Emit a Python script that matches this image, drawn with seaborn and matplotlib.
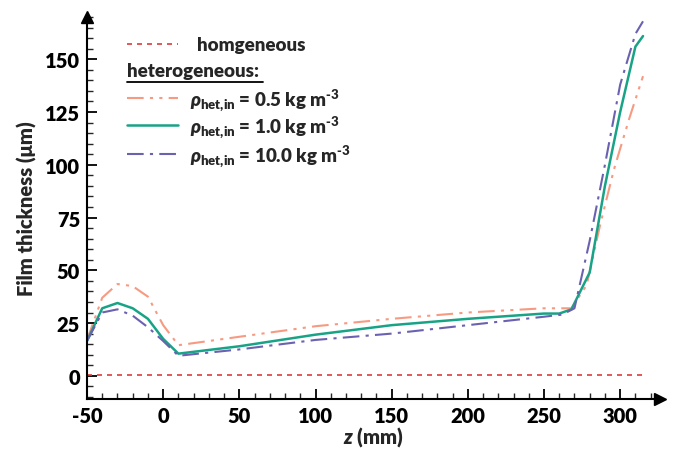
import numpy as np
import pandas as pd
import matplotlib
matplotlib.use("Agg")
import matplotlib.pyplot as plt
from matplotlib.ticker import MultipleLocator
import seaborn as sns

# ---------------- data ----------------
z_hom = [-50, 315]
t_hom = [0.5, 0.5]

z_05 = [-50, -45, -40, -30, -20, -10, 0, 10, 50, 100, 150, 200, 250, 268, 278, 287, 296, 306, 315]
t_05 = [17, 27, 37, 43.5, 42.5, 37.5, 24, 14.5, 18.5, 23.5, 27, 30, 32, 32, 43, 72, 98, 122, 142]

z_10 = [-50, -40, -30, -20, -10, 0, 10, 50, 100, 150, 200, 250, 260, 268, 280, 290, 300, 310, 315]
t_10 = [16.5, 32, 34.5, 32, 27, 17.5, 10.5, 14, 19.5, 24, 27, 29.5, 29.5, 31.5, 49, 90, 125, 156, 161]

z_100 = [-50, -40, -30, -20, -10, 0, 10, 50, 100, 150, 200, 250, 262, 270, 280, 290, 300, 310, 315]
t_100 = [16.5, 30, 31.5, 28.5, 23, 16.5, 9.5, 12.5, 17, 20, 24, 28, 29, 32, 64, 100, 138, 162, 168]

labels = ["homgeneous",
          r"$\rho_{\mathbf{het{,}in}}$ = 0.5 kg m$^{\mathbf{‐3}}$",
          r"$\rho_{\mathbf{het{,}in}}$ = 1.0 kg m$^{\mathbf{‐3}}$",
          r"$\rho_{\mathbf{het{,}in}}$ = 10.0 kg m$^{\mathbf{‐3}}$"]
x_ticks = [-50, 0, 50, 100, 150, 200, 250, 300]
y_ticks = [0, 25, 50, 75, 100, 125, 150]

# ---------------- style ----------------
sns.set_style("white")
plt.rcParams['font.family'] = ['Lato', 'DejaVu Sans']
plt.rcParams['font.weight'] = 'heavy'
plt.rcParams['axes.unicode_minus'] = False
plt.rcParams['mathtext.fontset'] = 'custom'
plt.rcParams['mathtext.rm'] = 'Lato:heavy'
plt.rcParams['mathtext.bf'] = 'Lato:heavy'
plt.rcParams['mathtext.it'] = 'Lato:heavy:italic'

FW = 'heavy'
c_hom = "#e03a3a"
c_05 = "#f79a82"
c_10 = "#19a386"
c_100 = "#6a62b0"

fig = plt.figure(figsize=(6.76, 4.52), dpi=100)
ax = fig.add_axes([0.1287, 0.115, 0.976 - 0.1287, 0.845])

df_h = pd.DataFrame({"z": z_hom, "t": t_hom})
df_a = pd.DataFrame({"z": z_05, "t": t_05})
df_b = pd.DataFrame({"z": z_10, "t": t_10})
df_c = pd.DataFrame({"z": z_100, "t": t_100})

sns.lineplot(data=df_h, x="z", y="t", ax=ax, color=c_hom, lw=1.2,
             linestyle=(0, (3, 3)), sort=False)
sns.lineplot(data=df_a, x="z", y="t", ax=ax, color=c_05, lw=1.5,
             linestyle=(0, (8, 3, 1.5, 3, 1.5, 3)), sort=False)
sns.lineplot(data=df_b, x="z", y="t", ax=ax, color=c_10, lw=1.8,
             linestyle="-", sort=False)
sns.lineplot(data=df_c, x="z", y="t", ax=ax, color=c_100, lw=1.5,
             linestyle=(0, (8, 3, 1.5, 3)), sort=False)

ax.set_xlim(-50, 326)
ax.set_ylim(-11, 170)
ax.set_xticks(x_ticks)
ax.set_yticks(y_ticks)
ax.xaxis.set_minor_locator(MultipleLocator(10))
ax.yaxis.set_minor_locator(MultipleLocator(5))
ax.tick_params(which='major', direction='in', length=7, width=1.3,
               labelsize=14.5, colors='black', bottom=True, left=True, pad=5)
ax.tick_params(which='minor', direction='in', length=4, width=1.0,
               bottom=True, left=True)
for lab in ax.get_xticklabels() + ax.get_yticklabels():
    lab.set_fontweight(FW)

for s in ['top', 'right']:
    ax.spines[s].set_visible(False)
for s in ['left', 'bottom']:
    ax.spines[s].set_linewidth(1.5)
    ax.spines[s].set_color('black')

# arrow heads
ax.plot([0], [1.0], marker='^', color='black', markersize=9,
        transform=ax.transAxes, clip_on=False)
ax.plot([1.0], [0], marker='>', color='black', markersize=9,
        transform=ax.transAxes, clip_on=False)

ax.set_xlabel(r"$\mathit{z}$ (mm)", fontsize=14.5, fontweight=FW, labelpad=-1)
ax.set_ylabel("Film thickness (μm)", fontsize=14.5, fontweight=FW, labelpad=6)

# custom legend (figure pixel coords -> axes coords)
W, H = 676, 452
def fx(px):
    return px / W
def fy(py):
    return 1 - py / H

leg_lines = [(45, c_hom, (0, (3, 3)), 1.2),
             (99, c_05, (0, (8, 3, 1.5, 3, 1.5, 3)), 1.5),
             (126, c_10, "-", 1.8),
             (155, c_100, (0, (8, 3, 1.5, 3)), 1.5)]
for (py, c, ls, lw) in leg_lines:
    fig.add_artist(plt.Line2D([fx(127), fx(178)], [fy(py), fy(py)],
                              color=c, linestyle=ls, lw=lw))

fig.text(fx(197), fy(45), labels[0], fontsize=13.5, fontweight=FW, va='center')
t = fig.text(fx(127), fy(72), "heterogeneous:", fontsize=13.5, fontweight=FW, va='center')
fig.add_artist(plt.Line2D([fx(127), fx(263)], [fy(83), fy(83)], color='black', lw=1.3))
for py, lab in zip([99, 126, 155], labels[1:]):
    fig.text(fx(190), fy(py + 2), lab, fontsize=13.5, fontweight=FW, va='center')

fig.savefig("out.png", dpi=100)
